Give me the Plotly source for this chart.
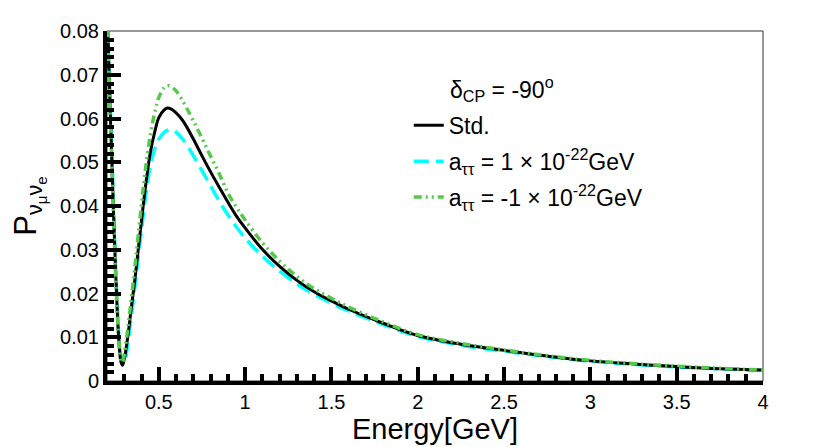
import plotly.graph_objects as go

# energy grid (GeV) shared by all three curves
energy = [0.20, 0.21, 0.22, 0.23, 0.24, 0.25, 0.26, 0.27, 0.28, 0.29, 0.30,
          0.32, 0.34, 0.36, 0.38, 0.40, 0.42, 0.45, 0.48, 0.50, 0.53, 0.55,
          0.57, 0.60, 0.63, 0.66, 0.70, 0.75, 0.80, 0.85, 0.90, 0.95, 1.0,
          1.1, 1.2, 1.3, 1.4, 1.5, 1.6, 1.8, 2.0, 2.25, 2.5, 2.75, 3.0,
          3.25, 3.5, 3.75, 4.0]

p_std = [0.087, 0.073, 0.060, 0.048, 0.036, 0.025, 0.0155, 0.0085, 0.0045, 0.0036, 0.0050,
         0.0100, 0.0165, 0.0227, 0.0297, 0.0367, 0.0435, 0.0520, 0.0575, 0.0602, 0.0619, 0.0624,
         0.0622, 0.0613, 0.0600, 0.0582, 0.0553, 0.0515, 0.0478, 0.0443, 0.0409, 0.0377, 0.0350,
         0.0301, 0.0262, 0.0230, 0.0204, 0.0183, 0.0164, 0.0132, 0.0104, 0.0084, 0.0070, 0.0057, 0.0046,
         0.0039, 0.0033, 0.0028, 0.0025]

p_pos = [0.088, 0.074, 0.062, 0.050, 0.037, 0.026, 0.017, 0.0095, 0.0058, 0.0043, 0.0042,
         0.0085, 0.0145, 0.0210, 0.0280, 0.0345, 0.0410, 0.0490, 0.0535, 0.0553, 0.0568, 0.0573,
         0.0575, 0.0569, 0.0557, 0.0541, 0.0515, 0.0481, 0.0446, 0.0411, 0.0380, 0.0352, 0.0327,
         0.0285, 0.0251, 0.0222, 0.0198, 0.0178, 0.0160, 0.0129, 0.0102, 0.0082, 0.0068, 0.0056, 0.0045,
         0.0038, 0.0032, 0.0028, 0.0024]

p_neg = [0.086, 0.071, 0.059, 0.047, 0.035, 0.024, 0.015, 0.0085, 0.0048, 0.0042, 0.0060,
         0.0118, 0.0185, 0.0255, 0.0330, 0.0405, 0.0475, 0.0560, 0.0620, 0.0648, 0.0670, 0.0675,
         0.0673, 0.0663, 0.0646, 0.0625, 0.0595, 0.0555, 0.0514, 0.0474, 0.0430, 0.0397, 0.0368,
         0.0316, 0.0274, 0.0239, 0.0211, 0.0189, 0.0169, 0.0135, 0.0106, 0.0086, 0.0071, 0.0058, 0.0047,
         0.0040, 0.0034, 0.0029, 0.0025]

font = "Liberation Sans, Arial, Helvetica, sans-serif"

fig = go.Figure()
fig.add_trace(go.Scatter(x=energy, y=p_pos, mode="lines", line_shape="spline",
                         name="a<sub>ττ</sub> = 1 × 10<sup>-22</sup>GeV", legendrank=2, legendgroup="b",
                         line=dict(color="#00FFFF", width=3.5, dash="15px,7px")))
fig.add_trace(go.Scatter(x=energy, y=p_std, mode="lines", line_shape="spline",
                         name="Std.", legendrank=1, legendgroup="a",
                         line=dict(color="black", width=3)))
fig.add_trace(go.Scatter(x=energy, y=p_neg, mode="lines", line_shape="spline",
                         name="a<sub>ττ</sub> = -1 × 10<sup>-22</sup>GeV", legendrank=3, legendgroup="c",
                         line=dict(color="#55C94A", width=3.5, dash="8px,4px,2px,4px,2px,4px")))

# thin frame on top/right, thick axes drawn by the axes themselves
fig.add_shape(type="rect", xref="paper", yref="paper", x0=0, x1=1, y0=0, y1=1,
              line=dict(color="#333", width=1), layer="below")

fig.add_annotation(xref="paper", yref="paper", x=0.5205, y=0.835,
                   xanchor="left", yanchor="middle", showarrow=False,
                   text="δ<sub>CP</sub> = -90<sup>o</sup>",
                   font=dict(family=font, size=23, color="black"))

fig.update_layout(
    width=822, height=439,
    margin=dict(l=98, r=67, t=17, b=65),
    plot_bgcolor="white", paper_bgcolor="white",
    font=dict(family=font, color="black"),
    legend=dict(x=0.46, y=0.792, xanchor="left", yanchor="top",
                traceorder="grouped", tracegroupgap=3,
                bgcolor="rgba(0,0,0,0)", font=dict(size=23)),
)
fig.update_xaxes(range=[0.2, 4], showgrid=False, zeroline=False,
                 showline=True, linewidth=4, linecolor="black",
                 ticks="inside", ticklen=14, tickwidth=4, tickcolor="black",
                 dtick=0.5, tick0=0, tickfont=dict(size=20),
                 minor=dict(ticks="inside", ticklen=7, tickwidth=4, dtick=0.1, tickcolor="black"),
                 title=dict(text="Energy[GeV]", font=dict(size=29), standoff=2))
fig.update_yaxes(range=[0, 0.08], showgrid=False, zeroline=False,
                 showline=True, linewidth=4, linecolor="black",
                 ticks="inside", ticklen=14, tickwidth=4, tickcolor="black",
                 dtick=0.01, tick0=0, tickfont=dict(size=20),
                 minor=dict(ticks="inside", ticklen=7, tickwidth=4, dtick=0.002, tickcolor="black"),
                 title=dict(text="P<sub>ν<sub>μ</sub>ν<sub>e</sub></sub>", font=dict(size=31), standoff=18))

fig.write_html("out.html")
